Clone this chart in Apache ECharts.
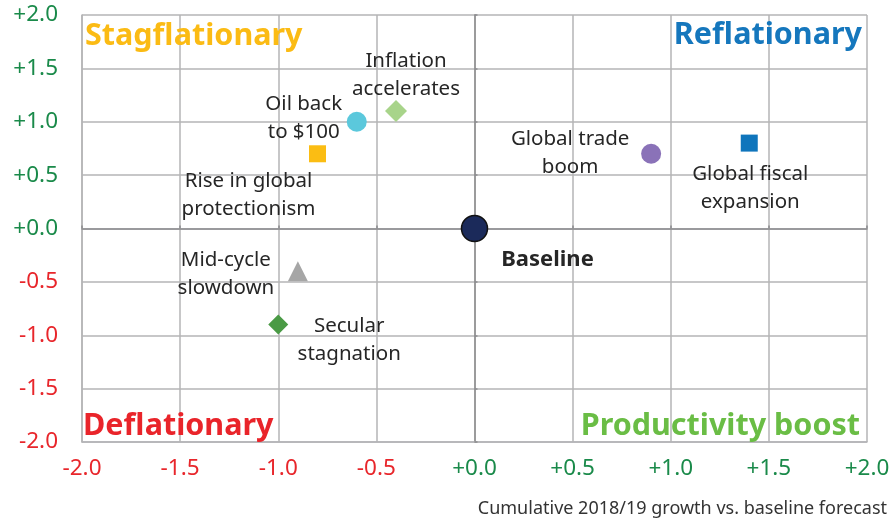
<!DOCTYPE html>
<html>
<head>
<meta charset="utf-8">
<script src="https://cdn.jsdelivr.net/npm/echarts@6/dist/echarts.min.js"></script>
<style>
  html, body { margin: 0; padding: 0; background: #fff; }
  #chart { width: 895px; height: 523px; }
</style>
</head>
<body>
<div id="chart"></div>
<script>
// scenario data
var names = ['Oil back\nto $100', 'Inflation\naccelerates', 'Rise in global\nprotectionism', 'Global trade\nboom',
             'Global fiscal\nexpansion', 'Baseline', 'Mid-cycle\nslowdown', 'Secular\nstagnation'];
var growth = [-0.6, -0.4, -0.8, 0.9, 1.4, 0.0, -0.9, -1.0];
var inflation = [1.0, 1.1, 0.7, 0.7, 0.8, 0.0, -0.4, -0.9];
var symbols = ['circle', 'diamond', 'rect', 'circle', 'rect', 'circle', 'triangle', 'diamond'];
var colors = ['#5bc8dc', '#a8d48a', '#fbbd13', '#8a72b8', '#0f75bc', '#1b2a5a', '#a6a6a6', '#4a9a45'];
var ticks = [-2.0, 2.0, 0.5];

// label placement (px offsets from marker)
var offsets = [[-53, -4], [10, -36], [-69, 41], [-81, -1], [1, 45], [73, 31], [-72, 3], [71, 16]];
var sizes = [20, 22, 17, 20, 17, 26, 20, 20];

var FONT = 'Noto Sans';
var gridCol = '#b4b4b6';
var zeroCol = '#8c8c8e';

function tickColor(v) {
    return v < 0 ? '#e8262b' : '#1a8a4a';
}
function tickFmt(v) {
    return (v >= 0 ? '+' : '') + v.toFixed(1);
}

var data = [];
for (var i = 0; i < names.length; i++) {
    data.push({
        value: [growth[i], inflation[i]],
        name: names[i],
        symbol: symbols[i],
        symbolSize: sizes[i],
        itemStyle: {
            color: colors[i],
            opacity: 1,
            borderColor: i == 5 ? '#111' : null,
            borderWidth: i == 5 ? 1.5 : 0
        },
        label: {
            show: true,
            position: 'inside',
            offset: offsets[i],
            formatter: names[i],
            color: '#262626',
            textBorderWidth: 0,
            fontFamily: FONT,
            fontSize: i == 5 ? 22 : 20.5,
            fontWeight: i == 5 ? 'bold' : 'normal',
            lineHeight: 28,
            align: 'center',
            verticalAlign: 'middle'
        }
    });
}

var chart = echarts.init(document.getElementById('chart'));
var option = {
    animation: false,
    grid: { left: 82, right: 28, top: 15, bottom: 81 },
    xAxis: [{
        type: 'value', min: ticks[0], max: ticks[1], interval: ticks[2],
        axisLine: { onZero: false, lineStyle: { color: gridCol, width: 1.5 } },
        axisTick: { show: false },
        splitLine: { lineStyle: { color: gridCol, width: 1.5 } },
        axisLabel: { margin: 15, fontFamily: FONT, fontSize: 22.5, color: tickColor, formatter: tickFmt }
    }, {
        type: 'value', min: ticks[0], max: ticks[1], interval: ticks[2],
        axisLine: { onZero: true, lineStyle: { color: zeroCol, width: 1.5 } },
        axisTick: { show: true, length: 3, lineStyle: { color: zeroCol, width: 1.5 } },
        axisLabel: { show: false },
        splitLine: { show: false }
    }],
    yAxis: [{
        type: 'value', min: ticks[0], max: ticks[1], interval: ticks[2],
        axisLine: { onZero: false, lineStyle: { color: gridCol, width: 1.5 } },
        axisTick: { show: false },
        splitLine: { lineStyle: { color: gridCol, width: 1.5 } },
        axisLabel: { margin: 24, fontFamily: FONT, fontSize: 22.5, color: tickColor, formatter: tickFmt }
    }, {
        type: 'value', min: ticks[0], max: ticks[1], interval: ticks[2],
        axisLine: { onZero: true, lineStyle: { color: zeroCol, width: 1.5 } },
        axisTick: { show: true, length: 3, lineStyle: { color: zeroCol, width: 1.5 } },
        axisLabel: { show: false },
        splitLine: { show: false }
    }],
    graphic: [
        { type: 'text', z: 10, style: { text: 'Stagflationary', x: 85, y: 36, textAlign: 'left', textVerticalAlign: 'middle',
            font: 'bold 30.5px "Noto Sans"', fill: '#fbbb14' } },
        { type: 'text', z: 10, style: { text: 'Reflationary', x: 862, y: 35, textAlign: 'right', textVerticalAlign: 'middle',
            font: 'bold 30.5px "Noto Sans"', fill: '#1577bd' } },
        { type: 'text', z: 10, style: { text: 'Deflationary', x: 83, y: 426, textAlign: 'left', textVerticalAlign: 'middle',
            font: 'bold 30.5px "Noto Sans"', fill: '#e9242a' } },
        { type: 'text', z: 10, style: { text: 'Productivity boost', x: 860, y: 426, textAlign: 'right', textVerticalAlign: 'middle',
            font: 'bold 30.5px "Noto Sans"', fill: '#6abd45' } },
        { type: 'text', style: { text: 'Cumulative 2018/19 growth vs. baseline forecast', x: 887, y: 509, textAlign: 'right',
            textVerticalAlign: 'middle', font: '18px "Noto Sans"', fill: '#333' } }
    ],
    series: [{
        type: 'scatter',
        xAxisIndex: 0,
        yAxisIndex: 0,
        z: 5,
        data: data
    }]
};
chart.setOption(option);
</script>
</body>
</html>
